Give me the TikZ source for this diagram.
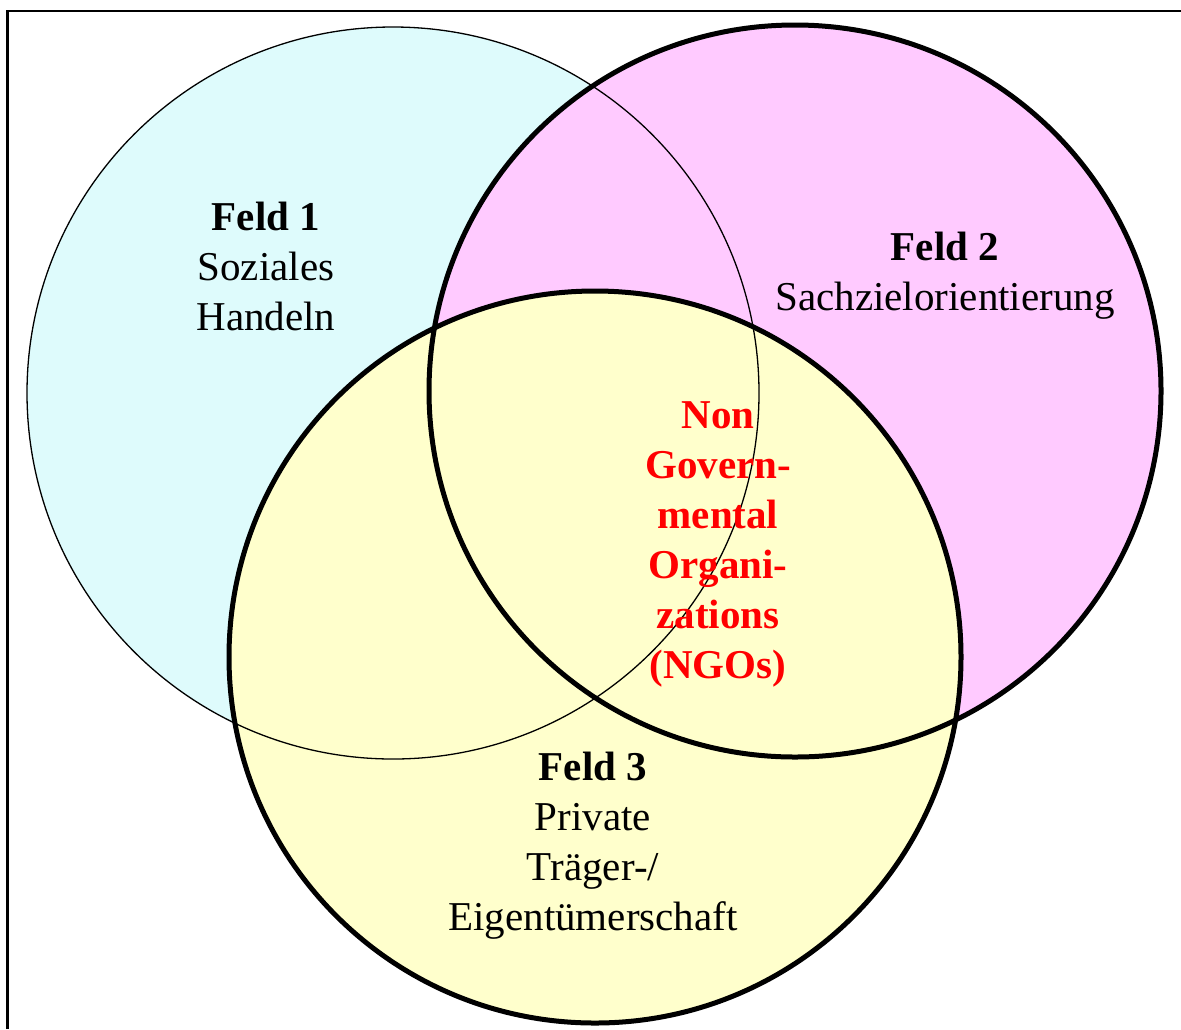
\documentclass[tikz,border=0pt]{standalone}
\usepackage{fontspec}
\setmainfont{Liberation Serif}
\usetikzlibrary{positioning}
\usetikzlibrary{calc}

\definecolor{feldcyan}{RGB}{222,251,252}
\definecolor{feldpink}{RGB}{255,202,255}
\definecolor{feldyellow}{RGB}{255,255,204}

\begin{document}
\begin{tikzpicture}[x=0.5pt, y=-0.5pt,
  feldtext/.style={align=center, inner sep=0pt, font=\fontsize{20.5}{25}\selectfont},
  rim/.style={line width=2.5pt}]

\useasboundingbox (0,0) rectangle (1181,1029);

% frame
\draw[line width=1.25pt] (7.5,1029) -- (7.5,11) -- (1181,11);

% centres of the fields
\coordinate (F1) at (393,393);
\coordinate (F2) at (795,391);
\coordinate (F3) at (595,657);

%%% fills
\fill[feldcyan] (F1) circle (183pt);
\fill[feldpink] (F2) circle (183pt);
\fill[feldyellow] (F3) circle (183pt);

%%% outlines
\draw[line width=0.65pt] (F1) circle (183pt);
\draw[rim] (F2) circle (183pt);
\draw[rim] (F3) circle (183pt);

\node[feldtext] (feld1) at (266,266) {\textbf{Feld 1}\\Soziales\\Handeln};
\node[feldtext] (feld2) at (945,276) {\textbf{Feld 2}\\Sachzielorientierung};
\node[feldtext] (feld3) at (593,846) {\textbf{Feld 3}\\Private\\Träger-/\\Eigentümerschaft};

% the common part
\node[feldtext, text=red, font=\fontsize{20.5}{25}\selectfont\bfseries] (ngo) at (718,544) {Non\\Govern-\\mental\\Organi-\\zations\\(NGOs)};

\end{tikzpicture}
\end{document}
